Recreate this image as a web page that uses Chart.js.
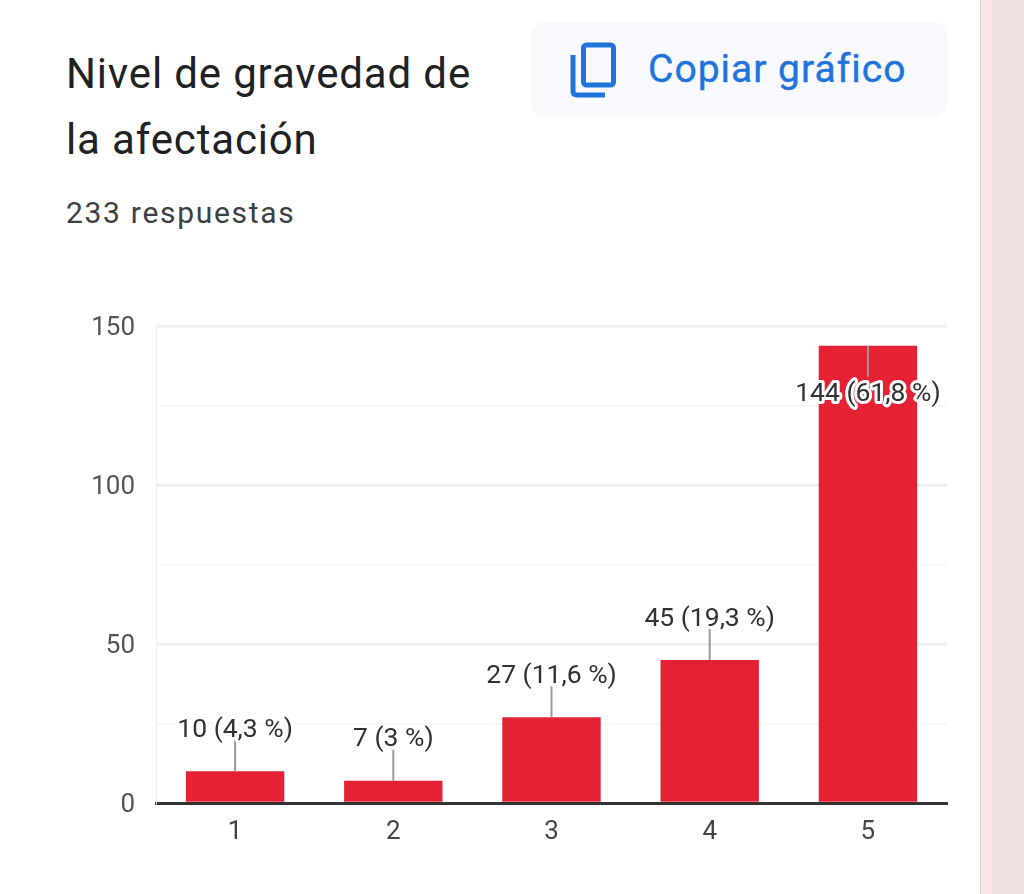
<!DOCTYPE html>
<html lang="es">
<head>
<meta charset="utf-8">
<title>Nivel de gravedad de la afectación</title>
<script src="https://cdn.jsdelivr.net/npm/chart.js@4"></script>
<style>
  html, body { margin: 0; padding: 0; width: 1024px; height: 894px; overflow: hidden; background: #f0dfe1; font-family: Roboto, sans-serif; }
  #strip { position: absolute; left: 980px; top: 0; width: 12px; height: 894px; background: #f9e7e8; }
  #card { position: absolute; left: -20px; top: -20px; width: 1000px; height: 940px; background: #fff; border-right: 1.5px solid #dcdcdc; border-radius: 16px; }
  #title { position: absolute; left: 66px; top: 41px; margin: 0; font-size: 42px; line-height: 66px; font-weight: 400; color: #202124; letter-spacing: 0.85px; }
  #count { position: absolute; left: 66px; top: 195px; font-size: 30px; line-height: 36px; color: #3c4043; letter-spacing: 1.7px; }
  #copy { position: absolute; left: 531px; top: 22px; width: 416px; height: 95px; border-radius: 14px; background: #f7f9fd; }
  #copy svg { position: absolute; left: 39px; top: 20px; }
  #copy span { position: absolute; left: 117px; top: 23px; font-size: 39px; line-height: 48px; color: #1f74dc; letter-spacing: 1px; font-weight: 400; -webkit-text-stroke: 0.4px #1f74dc; }
  #wrap { position: absolute; left: 0; top: 290px; width: 1024px; height: 604px; }
</style>
</head>
<body>
<div id="strip"></div>
<div id="card"></div>
<h1 id="title">Nivel de gravedad de<br>la afectación</h1>
<div id="count">233 respuestas</div>
<div id="copy">
  <svg width="48" height="56" viewBox="0 0 48 56">
    <rect x="13.5" y="3" width="30" height="40" rx="3" fill="none" stroke="#1f74dc" stroke-width="5"/>
    <path d="M3 13 V49 Q3 53 7 53 H35" fill="none" stroke="#1f74dc" stroke-width="5"/>
  </svg>
  <span>Copiar gráfico</span>
</div>
<div id="wrap"><canvas id="myChart"></canvas></div>

<script>
var categorias = ["1", "2", "3", "4", "5"];
var respuestas = [10, 7, 27, 45, 144];
var porcentajes = ["4,3", "3", "11,6", "19,3", "61,8"];

// lineas y etiquetas encima de cada barra
var etiquetas = {
  id: "etiquetas",
  afterDatasetsDraw: function(chart) {
    var ctx = chart.ctx;
    var top = chart.chartArea.top;
    var bars = chart.getDatasetMeta(0).data;
    ctx.save();
    ctx.font = "26.5px Roboto";
    ctx.textAlign = "center";
    ctx.textBaseline = "middle";
    bars.forEach(function(bar, i) {
      // si no cabe arriba, va hacia abajo dentro de la barra
      var dir = bar.y - 60 < top ? 1 : -1;
      ctx.strokeStyle = "#9a9a9a";
      ctx.lineWidth = 2;
      ctx.beginPath();
      ctx.moveTo(bar.x, bar.y);
      ctx.lineTo(bar.x, bar.y + dir * 31);
      ctx.stroke();
      var texto = respuestas[i] + " (" + porcentajes[i] + " %)";
      var y = bar.y + dir * 45 + 4;
      ctx.strokeStyle = "#fff";
      ctx.lineWidth = 6;
      ctx.lineJoin = "round";
      ctx.strokeText(texto, bar.x, y);
      ctx.fillStyle = "#303134";
      ctx.fillText(texto, bar.x, y);
    });
    ctx.restore();
  }
};

var canvas = document.getElementById("myChart");
var chart = new Chart(canvas.getContext("2d"), {
  type: "bar",
  data: {
    labels: categorias,
    datasets: [{
      label: "Respuestas",
      data: respuestas,
      backgroundColor: "#e52233",
      categoryPercentage: 0.622,
      barPercentage: 1
    }]
  },
  options: {
    responsive: true,
    maintainAspectRatio: false,
    animation: false,
    layout: { padding: { top: 16, right: 77, bottom: 0, left: 0 } },
    plugins: { legend: { display: false }, tooltip: { enabled: false } },
    scales: {
      x: {
        grid: { display: false },
        border: { color: "#333", width: 3 },
        ticks: { color: "#444", font: { family: "Roboto", size: 26 }, padding: 6 },
        afterFit: function(scale) { scale.height = 91; }
      },
      y: {
        min: 0,
        max: 150,
        afterFit: function(scale) { scale.width = 156; },
        border: { color: "#eee", width: 1 },
        grid: {
          drawTicks: false,
          color: function(c) {
            if (c.tick.value === 0) return "rgba(0,0,0,0)";
            return c.tick.value % 50 === 0 ? "#eeeeee" : "#f5f5f5";
          },
          lineWidth: function(c) { return c.tick.value % 50 === 0 ? 2.5 : 1.5; }
        },
        ticks: {
          stepSize: 25,
          padding: 21,
          labelOffset: 2,
          color: "#555",
          font: { family: "Roboto", size: 26 },
          callback: function(v) { return v % 50 === 0 ? v : ""; }
        }
      }
    }
  },
  plugins: [etiquetas]
});
</script>
</body>
</html>
